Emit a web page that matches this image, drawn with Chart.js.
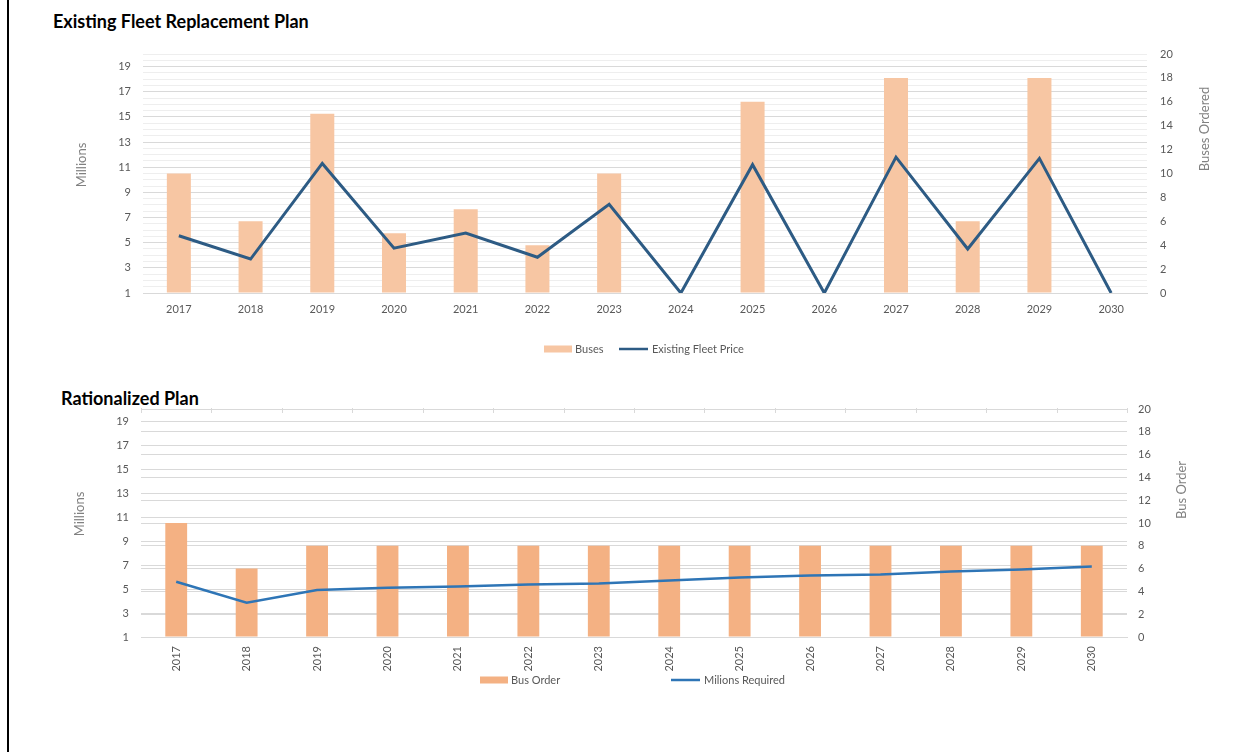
<!DOCTYPE html>
<html>
<head>
<meta charset="utf-8">
<script src="https://cdn.jsdelivr.net/npm/chart.js@4.4.1/dist/chart.umd.min.js"></script>
<style>
  html, body { margin:0; padding:0; background:#fff; width:1250px; height:752px; overflow:hidden; }
  .title { position:absolute; font-family:Lato, sans-serif; font-weight:bold; font-size:18px; line-height:20px; color:#000; white-space:nowrap; }
  .frame { position:absolute; left:7px; top:0; width:2px; height:752px; background:#000; }
  canvas { position:absolute; left:0; }
</style>
</head>
<body>
<div class="frame"></div>
<div class="title" style="left:53px; top:11px;">Existing Fleet Replacement Plan</div>
<div class="title" style="left:61px; top:388px;">Rationalized Plan</div>
<canvas id="top" width="1250" height="330" style="top:40px;"></canvas>
<canvas id="bottom" width="1250" height="357" style="top:395px;"></canvas>
<script>
// ---- data ----
const categories = ['2017','2018','2019','2020','2021','2022','2023','2024','2025','2026','2027','2028','2029','2030'];
const busesOrdered = [10, 6, 15, 5, 7, 4, 10, 0, 16, 0, 18, 6, 18, 0];
const existingFleetPrice = [5.55, 3.7, 11.3, 4.56, 5.76, 3.84, 8.05, 1, 11.2, 1, 11.8, 4.5, 11.7, 1];
const busOrder = [10, 6, 8, 8, 8, 8, 8, 8, 8, 8, 8, 8, 8, 8];
const millionsRequired = [5.6, 3.85, 4.92, 5.1, 5.2, 5.37, 5.45, 5.7, 5.95, 6.12, 6.2, 6.45, 6.62, 6.87];
const millionsTicks = [1, 3, 5, 7, 9, 11, 13, 15, 17, 19];
const busTicks = [0, 2, 4, 6, 8, 10, 12, 14, 16, 18, 20];

const FONT = 'Lato, sans-serif';
const TICK_COLOR = '#595959';
Chart.defaults.font.family = FONT;
Chart.defaults.font.size = 11;
Chart.defaults.color = TICK_COLOR;

function noPad(s) { s.paddingTop = 0; s.paddingBottom = 0; }

const decor = {
  id: 'decor',
  afterDraw(chart, args, opts) {
    const ctx = chart.ctx;
    ctx.save();
    (opts.titles || []).forEach(t => {
      ctx.save();
      ctx.translate(t.x, t.y);
      ctx.rotate(-Math.PI / 2);
      ctx.font = '13px ' + FONT;
      ctx.fillStyle = '#808080';
      ctx.textAlign = 'center';
      ctx.textBaseline = 'middle';
      ctx.fillText(t.text, 0, 0);
      ctx.restore();
    });
    (opts.legend || []).forEach(l => {
      const ds = chart.data.datasets[l.index];
      let tx;
      if (ds.type === 'bar') {
        ctx.fillStyle = ds.backgroundColor;
        ctx.fillRect(l.x, l.y - 3.5, 28, 7);
        tx = l.x + 31;
      } else {
        ctx.strokeStyle = ds.borderColor;
        ctx.lineWidth = 2.5;
        ctx.beginPath();
        ctx.moveTo(l.x, l.y);
        ctx.lineTo(l.x + 29, l.y);
        ctx.stroke();
        tx = l.x + 33;
      }
      ctx.font = '11px ' + FONT;
      ctx.fillStyle = TICK_COLOR;
      ctx.textAlign = 'left';
      ctx.textBaseline = 'middle';
      ctx.fillText(ds.label, tx, l.y);
    });
    if (opts.topBorder) {
      const a = chart.chartArea;
      const n = chart.data.labels.length;
      ctx.strokeStyle = '#d9d9d9';
      ctx.lineWidth = 1;
      ctx.beginPath();
      ctx.moveTo(a.left, a.top + 0.5);
      ctx.lineTo(a.right, a.top + 0.5);
      for (let i = 0; i <= n; i++) {
        const x = Math.round(a.left + i * (a.right - a.left) / n) + 0.5;
        ctx.moveTo(x, a.top - 1);
        ctx.lineTo(x, a.top + 4);
      }
      ctx.stroke();
    }
    ctx.restore();
  }
};

// ---- top chart ----
new Chart(document.getElementById('top'), {
  data: {
    labels: categories,
    datasets: [
      { type: 'bar', label: 'Buses', data: busesOrdered, yAxisID: 'yR', backgroundColor: '#F7C6A3',
        categoryPercentage: 1, barPercentage: 0.335, order: 1 },
      { type: 'line', label: 'Existing Fleet Price', data: existingFleetPrice, yAxisID: 'yL', borderColor: '#2D5B84',
        borderWidth: 3, pointRadius: 0, tension: 0, order: 0 }
    ]
  },
  options: {
    responsive: false, animation: false,
    layout: { padding: { top: 14, bottom: 47, left: 0, right: 0 } },
    plugins: {
      legend: { display: false }, tooltip: { enabled: false },
      decor: {
        titles: [ { text: 'Millions', x: 82, y: 125 }, { text: 'Buses Ordered', x: 1205, y: 89 } ],
        legend: [ { index: 0, x: 544, y: 309 }, { index: 1, x: 619, y: 309 } ]
      }
    },
    scales: {
      x: {
        grid: { display: false },
        border: { display: true, color: '#d9d9d9' },
        ticks: { padding: 2, color: TICK_COLOR, maxRotation: 0, autoSkip: false },
        afterFit(s) { s.height = 30; s.paddingLeft = 0; s.paddingRight = 0; }
      },
      yL: {
        position: 'left', min: 1, max: 20,
        ticks: { stepSize: 0.5, autoSkip: false, padding: 12, color: TICK_COLOR,
          callback: v => millionsTicks.includes(v) ? String(v) : '' },
        grid: { drawTicks: false,
          color: c => (c.tick && millionsTicks.includes(c.tick.value)) ? '#d9d9d9' : '#eeeeee' },
        border: { display: false },
        afterFit(s) { s.width = 143; noPad(s); }
      },
      yR: {
        position: 'right', min: 0, max: 20,
        ticks: { stepSize: 2, padding: 13, color: TICK_COLOR,
          callback: v => busTicks.includes(v) ? String(v) : '' },
        grid: { drawOnChartArea: false, drawTicks: false },
        border: { display: false },
        afterFit(s) { s.width = 103; noPad(s); }
      }
    }
  },
  plugins: [decor]
});

// ---- bottom chart ----
new Chart(document.getElementById('bottom'), {
  data: {
    labels: categories,
    datasets: [
      { type: 'bar', label: 'Bus Order', data: busOrder, yAxisID: 'yR', backgroundColor: '#F4B183',
        categoryPercentage: 1, barPercentage: 0.31, order: 1 },
      { type: 'line', label: 'Milions Required', data: millionsRequired, yAxisID: 'yL', borderColor: '#2E75B6',
        borderWidth: 2.5, pointRadius: 0, tension: 0, order: 0 }
    ]
  },
  options: {
    responsive: false, animation: false,
    layout: { padding: { top: 14, bottom: 75, left: 0, right: 0 } },
    plugins: {
      legend: { display: false }, tooltip: { enabled: false },
      decor: {
        titles: [ { text: 'Millions', x: 80, y: 119 }, { text: 'Bus Order', x: 1182, y: 95 } ],
        legend: [ { index: 0, x: 480, y: 285 }, { index: 1, x: 671, y: 285 } ],
        topBorder: true
      }
    },
    scales: {
      x: {
        grid: { display: false },
        border: { display: true, color: '#d9d9d9' },
        ticks: { padding: 1, color: TICK_COLOR, minRotation: 90, maxRotation: 90, autoSkip: false },
        afterFit(s) { s.height = 40; s.paddingLeft = 0; s.paddingRight = 0; }
      },
      yL: {
        position: 'left', min: 1, max: 20,
        ticks: { stepSize: 1, autoSkip: false, padding: 12, color: TICK_COLOR,
          callback: v => millionsTicks.includes(v) ? String(v) : '' },
        grid: { drawTicks: false,
          color: c => (c.tick && millionsTicks.includes(c.tick.value)) ? '#d9d9d9' : 'rgba(0,0,0,0)' },
        border: { display: false },
        afterFit(s) { s.width = 141; noPad(s); }
      },
      yR: {
        position: 'right', min: 0, max: 20,
        ticks: { stepSize: 2, padding: 11, color: TICK_COLOR,
          callback: v => busTicks.includes(v) ? String(v) : '' },
        grid: { drawTicks: false, color: '#d9d9d9' },
        border: { display: false },
        afterFit(s) { s.width = 123; noPad(s); }
      }
    }
  },
  plugins: [decor]
});
</script>
</body>
</html>
